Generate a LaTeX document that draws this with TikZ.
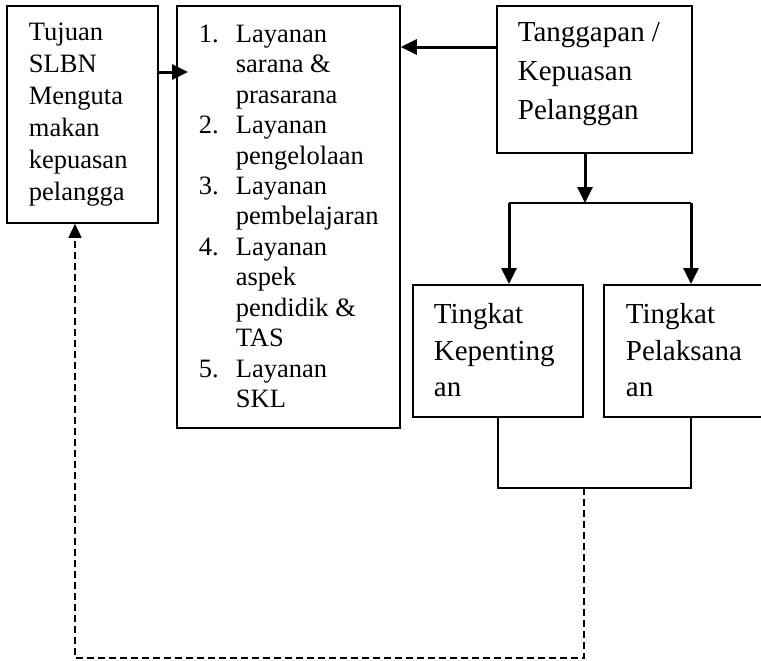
\documentclass[tikz,border=0pt]{standalone}
\usepackage{fontspec}
\setmainfont{Liberation Serif}
\usetikzlibrary{arrows.meta}

\newcommand{\isi}[3]{\parbox[t][#2][t]{#1}{#3}}
\newcommand{\butir}[2]{\hangindent=18.5pt\hangafter=1\noindent\makebox[18.5pt][l]{#1}#2\par}

\tikzset{
  kotak/.style={draw, line width=0.9pt, anchor=north west, inner sep=0pt},
  panah/.style={-{Triangle[length=8pt,width=7.5pt]}, line width=1.5pt},
  garis/.style={line width=1pt},
  putus/.style={line width=0.75pt, dash pattern=on 3.5pt off 2pt,
    -{Triangle[length=7pt,width=6.5pt]}}
}

\begin{document}
\begin{tikzpicture}[x=0.5pt, y=-0.5pt]
  \useasboundingbox (0,0) rectangle (761,660);

  \node[kotak, font=\fontsize{13.25pt}{16pt}\selectfont, inner xsep=11pt, inner ysep=8.7pt]
    (tujuan) at (6,5) {\isi{53.5pt}{91.1pt}{Tujuan\\ SLBN\\ Menguta\\ makan\\ kepuasan\\ pelangga}};
  \node[kotak, font=\fontsize{13.25pt}{15.25pt}\selectfont, inner xsep=11pt, inner ysep=9.3pt]
    (layanan) at (176,5) {\isi{89.5pt}{192.4pt}{%
      \butir{1.}{Layanan\newline sarana \&\newline prasarana}
      \butir{2.}{Layanan\newline pengelolaan}
      \butir{3.}{Layanan\newline pembelajaran}
      \butir{4.}{Layanan\newline aspek\newline pendidik \&\newline TAS}
      \butir{5.}{Layanan\newline SKL}}};
  \node[kotak, font=\fontsize{14.5pt}{19.5pt}\selectfont, inner xsep=10.5pt, inner ysep=8.2pt]
    (tanggapan) at (496,5) {\isi{76.5pt}{57.1pt}{Tanggapan /\\ Kepuasan\\ Pelanggan}};
  \node[kotak, font=\fontsize{14.5pt}{18.35pt}\selectfont, inner xsep=10.5pt, inner ysep=9.2pt]
    (penting) at (412,284) {\isi{64pt}{47.6pt}{Tingkat\\ Kepenting\\ an}};
  \node[kotak, font=\fontsize{14.5pt}{18.35pt}\selectfont, inner xsep=11pt, inner ysep=9.2pt]
    (laksana) at (603,284) {\isi{63pt}{47.6pt}{Tingkat\\ Pelaksana\\ an}};

  \coordinate (masuk) at (188,72);
  \coordinate (balik) at (0,47);
  \coordinate (cabang) at (585,203);
  \coordinate (kiri) at (509,203);
  \coordinate (kanan) at (691,203);
  \coordinate (gabung) at (584,488);
  \coordinate (bawah) at (75,658);

  \draw[panah] (tujuan.east |- masuk) -- (masuk);
  \draw[panah] (tanggapan.west |- balik) -- (layanan.east |- balik);
  \draw[panah] (tanggapan.south -| cabang) -- (cabang);
  \draw[garis] (kiri) -- (kanan);
  \draw[panah] (kiri) -- (kiri |- penting.north);
  \draw[panah] (kanan) -- (kanan |- laksana.north);
  \draw[garis] (penting.south) |- (gabung) -| (kanan |- laksana.south);
  \draw[putus] (gabung) |- (bawah) -- (bawah |- tujuan.south);
\end{tikzpicture}
\end{document}
